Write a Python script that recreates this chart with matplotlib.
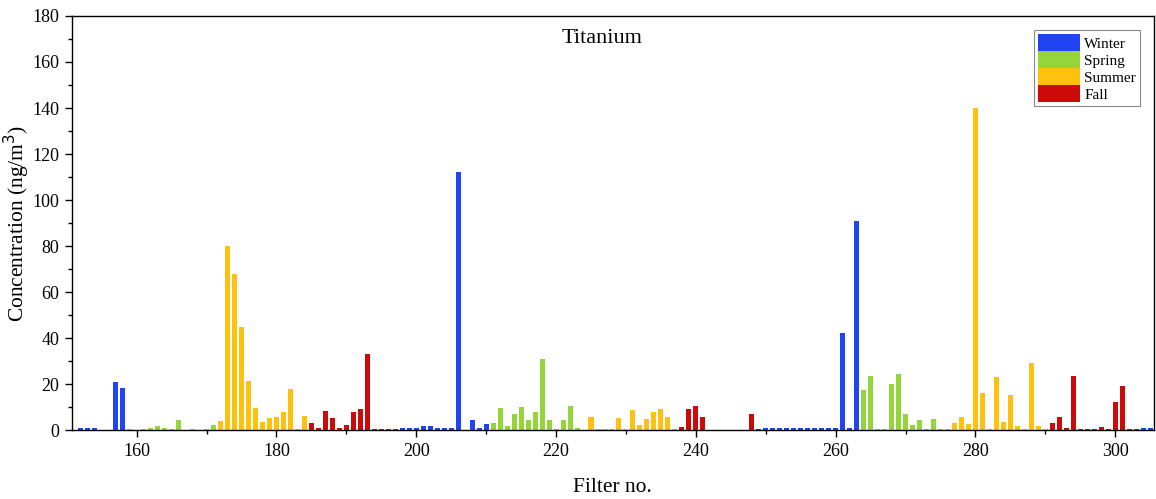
import matplotlib
matplotlib.use("Agg")
import matplotlib.pyplot as plt
from matplotlib.ticker import MultipleLocator
from matplotlib.patches import Patch

# ---- data ----
winter_filters = [152, 153, 154, 157, 158, 198, 199, 200, 201, 202, 203, 204, 205, 206,
                  208, 209, 210, 250, 251, 252, 253, 254, 255, 256, 257, 258, 259, 260,
                  261, 262, 263, 304, 305]
winter_values = [0.8, 0.8, 0.8, 21, 18.5, 0.8, 0.8, 0.8, 2, 2, 1, 1, 1, 112,
                 4.6, 1, 2.6, 0.8, 0.8, 0.8, 0.8, 0.8, 0.8, 0.8, 0.8, 0.8, 0.8, 0.8,
                 42, 1, 91, 0.8, 0.8]

spring_filters = [159, 161, 162, 163, 164, 165, 166, 168, 170, 171,
                  211, 212, 213, 214, 215, 216, 217, 218, 219, 220, 221, 222, 223,
                  264, 265, 266, 267, 268, 269, 270, 271, 272, 273, 274, 275]
spring_values = [0.5, 0.5, 0.8, 1.8, 0.8, 0.6, 4.3, 0.5, 0.5, 2.2,
                 2.9, 9.7, 1.9, 6.8, 10, 4.3, 8, 31, 4.3, 0.7, 4.3, 10.6, 1,
                 17.4, 23.5, 0.5, 0.5, 20, 24.6, 7, 2.2, 4.6, 0.7, 4.8, 0.5]

summer_filters = [172, 173, 174, 175, 176, 177, 178, 179, 180, 181, 182, 183, 184,
                  225, 226, 227, 228, 229, 230, 231, 232, 233, 234, 235, 236, 237,
                  276, 277, 278, 279, 280, 281, 282, 283, 284, 285, 286, 287, 288, 289, 290]
summer_values = [4, 80, 68, 45, 21.5, 9.5, 3.6, 5.1, 5.5, 7.7, 17.7, 0.7, 6.2,
                 5.8, 0.7, 0.7, 0.7, 5.4, 0.5, 8.7, 2.2, 5, 7.9, 9, 5.5, 0.5,
                 0.5, 3.2, 5.5, 2.6, 140, 16, 0.7, 22.9, 3.6, 15.3, 2, 0.7, 29, 1.7, 0.7]

fall_filters = [185, 186, 187, 188, 189, 190, 191, 192, 193, 194, 195, 196, 197,
                238, 239, 240, 241, 248, 249,
                291, 292, 293, 294, 295, 296, 297, 298, 299, 300, 301, 302, 303]
fall_values = [3.2, 1, 8.3, 5.4, 1, 2.2, 7.7, 9, 33, 0.7, 0.7, 0.7, 0.7,
               1.4, 9.4, 10.6, 5.5, 7.2, 0.7,
               3.2, 5.5, 1, 23.6, 0.7, 0.7, 0.7, 1.5, 0.7, 12.3, 19.3, 0.7, 0.7]

season_names = ["Winter", "Spring", "Summer", "Fall"]
season_colors = ["#1f44f2", "#94d63a", "#fec20e", "#cc0a0a"]

# ---- plot ----
plt.rcParams['font.family'] = ['Liberation Serif', 'DejaVu Serif']
fig = plt.figure(figsize=(11.56, 4.99), dpi=100)
ax = fig.add_axes([0.062, 0.138, 0.936, 0.830])

series = [(winter_filters, winter_values), (spring_filters, spring_values),
          (summer_filters, summer_values), (fall_filters, fall_values)]
for (fx, fy), name, col in zip(series, season_names, season_colors):
    ax.bar(fx, fy, width=0.72, color=col, linewidth=0, label=name)

ax.set_xlim(150.7, 305.5)
ax.set_ylim(0, 180)
ax.xaxis.set_major_locator(MultipleLocator(20))
ax.xaxis.set_minor_locator(MultipleLocator(10))
ax.yaxis.set_major_locator(MultipleLocator(20))
ax.yaxis.set_minor_locator(MultipleLocator(10))
ax.tick_params(which='both', direction='out', labelsize=13)
ax.tick_params(which='major', length=5, width=1)
ax.tick_params(which='minor', length=3, width=1)
ax.tick_params(axis='x', pad=4)
ax.tick_params(axis='y', pad=4)

for s in ax.spines.values():
    s.set_linewidth(1.0)

ax.set_xlabel("Filter no.", fontsize=15.5, labelpad=13)
ax.set_ylabel("Concentration (ng/m$^3$)", fontsize=15.5, labelpad=0)
ax.text(0.49, 0.945, "Titanium", transform=ax.transAxes, ha='center', va='center', fontsize=16)

handles = [Patch(facecolor=c, edgecolor='none', label=n) for n, c in zip(season_names, season_colors)]
leg = ax.legend(handles=handles, loc='upper right', bbox_to_anchor=(0.987, 0.966),
                fontsize=11, handlelength=2.75, handleheight=1.35, labelspacing=0.0,
                handletextpad=0.25, borderpad=0.25, borderaxespad=0.0, fancybox=False,
                framealpha=1, edgecolor='#888888')
leg.get_frame().set_linewidth(0.8)

fig.savefig("out.png", dpi=100)
